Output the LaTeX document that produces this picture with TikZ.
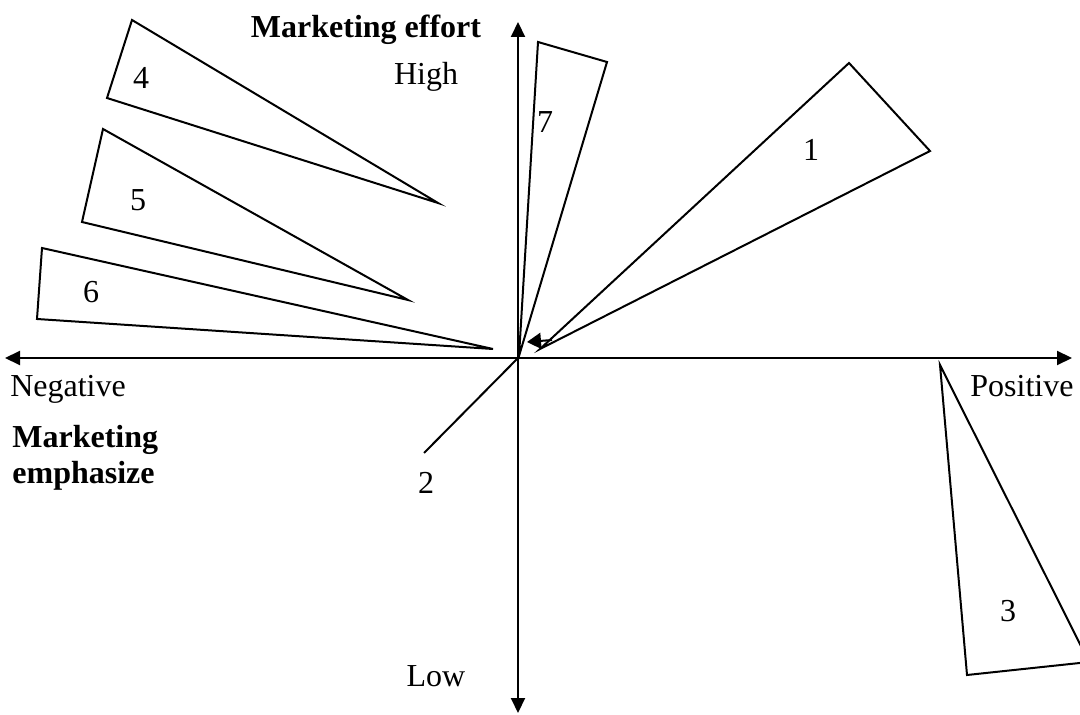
\documentclass[tikz,border=0pt]{standalone}
\usepackage{fontspec}
\setmainfont{Liberation Serif}
\usetikzlibrary{arrows.meta}
\newcommand{\labelsize}{\fontsize{16}{19}\selectfont}

\begin{document}
\begin{tikzpicture}[x=0.5pt,y=-0.5pt]
                \useasboundingbox (0,0) rectangle (1080,715);

                % axes ends
                \coordinate (O) at (518,358);
                \coordinate (west) at (5,358);
                \coordinate (east) at (1072,358);
                \coordinate (top) at (518,22);
                \coordinate (bottom) at (518,713);

                \begin{scope}[every node/.style={font=\labelsize,inner sep=0pt,anchor=base}]
                    \node[font=\labelsize\bfseries] (effort) at (366,38) {Marketing effort};
                    \node (high) at (426,85) {High};
                    \node (low) at (436,686) {Low};
                    \node (neg) at (68,397) {Negative};
                    \node (pos) at (1022,397) {Positive};
                    \node[font=\labelsize\bfseries,anchor=base west] (emph1) at (12,447) {Marketing};
                    \node[font=\labelsize\bfseries,anchor=base west] (emph2) at (12,483) {emphasize};
                    \node (n1) at (811,161) {1};
                    \node (n2) at (426,493) {2};
                    \node (n3) at (1008,621) {3};
                    \node (n4) at (141,89) {4};
                    \node (n5) at (138,211) {5};
                    \node (n6) at (91,303) {6};
                    \node (n7) at (545,133) {7};
                \end{scope}

                \begin{scope}[line width=1pt,line join=miter]
                    \draw (849,63) -- (930,151) -- (540,349) -- cycle;   % 1
                    \draw (940,365) -- (1089,662) -- (967,675) -- cycle; % 3
                    \draw (132,20) -- (438,203) -- (107,98) -- cycle;    % 4
                    \draw (103,129) -- (408,300) -- (82,222) -- cycle;   % 5
                    \draw (42,248) -- (493,349) -- (37,319) -- cycle;    % 6
                    \draw (538,42) -- (607,62) -- (519,356) -- cycle;    % 7
                    \coordinate (tail) at (424,453);
                    \coordinate (apex) at (552,340);
                    \coordinate (tip) at (527,342);
                \end{scope}

                \begin{scope}[>={Triangle[length=7.5pt,width=7pt]},
                    every edge/.style={draw=black,line width=1pt}]
                    \path [<->] (west) edge node {} (east);
                    \path [<->] (bottom) edge node {} (top);
                    \path [-] (tail) edge node {} (O);
                    \path [-{Triangle[length=7pt,width=8pt]}] (apex) edge node {} (tip);
                \end{scope}
            \end{tikzpicture}
\end{document}
